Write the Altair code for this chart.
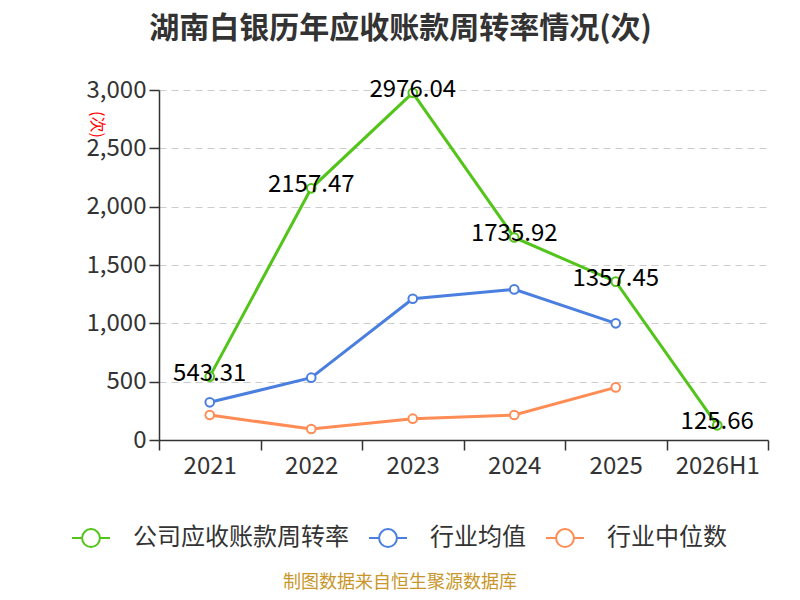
import altair as alt
import pandas as pd

years = ["2021", "2022", "2023", "2024", "2025", "2026H1"]
company = [543.31, 2157.47, 2976.04, 1735.92, 1357.45, 125.66]
industry_avg = [323, 534, 1211, 1291, 1000]
industry_med = [214, 94, 183, 214, 451]

s_company = "公司应收账款周转率"
s_avg = "行业均值"
s_med = "行业中位数"
series_order = [s_company, s_avg, s_med]
colors = ["#52c41a", "#4a7fe0", "#ff8c55"]

rows = []
for y, v in zip(years, company):
    rows.append({"year": y, "value": v, "series": s_company, "label": f"{v:.2f}"})
for y, v in zip(years, industry_avg):
    rows.append({"year": y, "value": v, "series": s_avg, "label": ""})
for y, v in zip(years, industry_med):
    rows.append({"year": y, "value": v, "series": s_med, "label": ""})
df = pd.DataFrame(rows)

FONT = "Noto Sans CJK SC"

x_enc = alt.X(
    "year:N",
    sort=years,
    scale=alt.Scale(type="band", domain=years, paddingInner=0, paddingOuter=0),
    bandPosition=0.5,
    axis=alt.Axis(
        title=None,
        labelFontSize=24,
        labelColor="#333333",
        labelFont=FONT,
        labelAngle=0,
        labelPadding=4,
        tickBand="extent",
        tickSize=10,
        tickColor="#333333",
        domainColor="#333333",
        domainWidth=1.5,
        tickWidth=1.5,
        grid=False,
    ),
)
y_enc = alt.Y(
    "value:Q",
    scale=alt.Scale(domain=[0, 3000], nice=False),
    axis=alt.Axis(
        title="(次)",
        titleColor="#ff0000",
        titleFontSize=16,
        titleFontWeight="normal",
        titleFont=FONT,
        titleAngle=90,
        titleX=-63,
        titleY=34,
        titleAlign="center",
        titleBaseline="middle",
        values=[0, 500, 1000, 1500, 2000, 2500, 3000],
        format=",.0f",
        labelFontSize=24,
        labelColor="#333333",
        labelFont=FONT,
        labelPadding=3,
        tickSize=10,
        tickColor="#333333",
        tickWidth=1.5,
        domainColor="#333333",
        domainWidth=1.5,
        grid=True,
        gridColor="#cccccc",
        gridDash=[7, 5],
        gridWidth=1.2,
    ),
)
legend = alt.Legend(
    title=None,
    orient="none",
    direction="horizontal",
    legendX=-88,
    legendY=428,
    padding=0,
    symbolType="M-1,0L-0.47,0M0.47,0L1,0M-0.47,0A0.47,0.47 0 1,0 0.47,0A0.47,0.47 0 1,0 -0.47,0",
    symbolSize=1444,
    symbolStrokeWidth=2,
    symbolFillColor="white",
    labelFontSize=24,
    labelColor="#333333",
    labelFont=FONT,
    labelOffset=22,
    columnPadding=16,
    labelLimit=400,
)
color_enc = alt.Color(
    "series:N",
    sort=series_order,
    scale=alt.Scale(domain=series_order, range=colors),
    legend=legend,
)

base = alt.Chart(df).encode(x=x_enc, y=y_enc, color=color_enc)

lines = base.mark_line(strokeWidth=3)

points = base.mark_point(
    shape="circle", filled=False, fill="white", fillOpacity=1, size=75, strokeWidth=2, opacity=1
)

labels = alt.Chart(df[df["series"] == s_company]).mark_text(
    fontSize=24, font=FONT, color="#000000", baseline="middle", align="center", dy=-3
).encode(x=x_enc, y=y_enc, text="label:N")

source = alt.Chart(pd.DataFrame({"t": ["制图数据来自恒生聚源数据库"]})).mark_text(
    fontSize=18, font=FONT, color="#c8962a", align="center", baseline="middle"
).encode(x=alt.value(241), y=alt.value(493), text="t:N")

chart = (
    alt.layer(lines, points, labels, source)
    .properties(
        width=609,
        height=350,
        autosize=alt.AutoSizeParams(type="none"),
        padding={"left": 151, "top": 82, "right": 24, "bottom": 152},
        title=alt.TitleParams(
            "湖南白银历年应收账款周转率情况(次)",
            fontSize=30,
            fontWeight="bold",
            color="#333333",
            font=FONT,
            anchor="middle",
            dx=-63,
            offset=34,
        ),
    )
    .configure_view(stroke=None)
)

chart.save("out.html", embed_options={"renderer": "svg", "actions": False})
